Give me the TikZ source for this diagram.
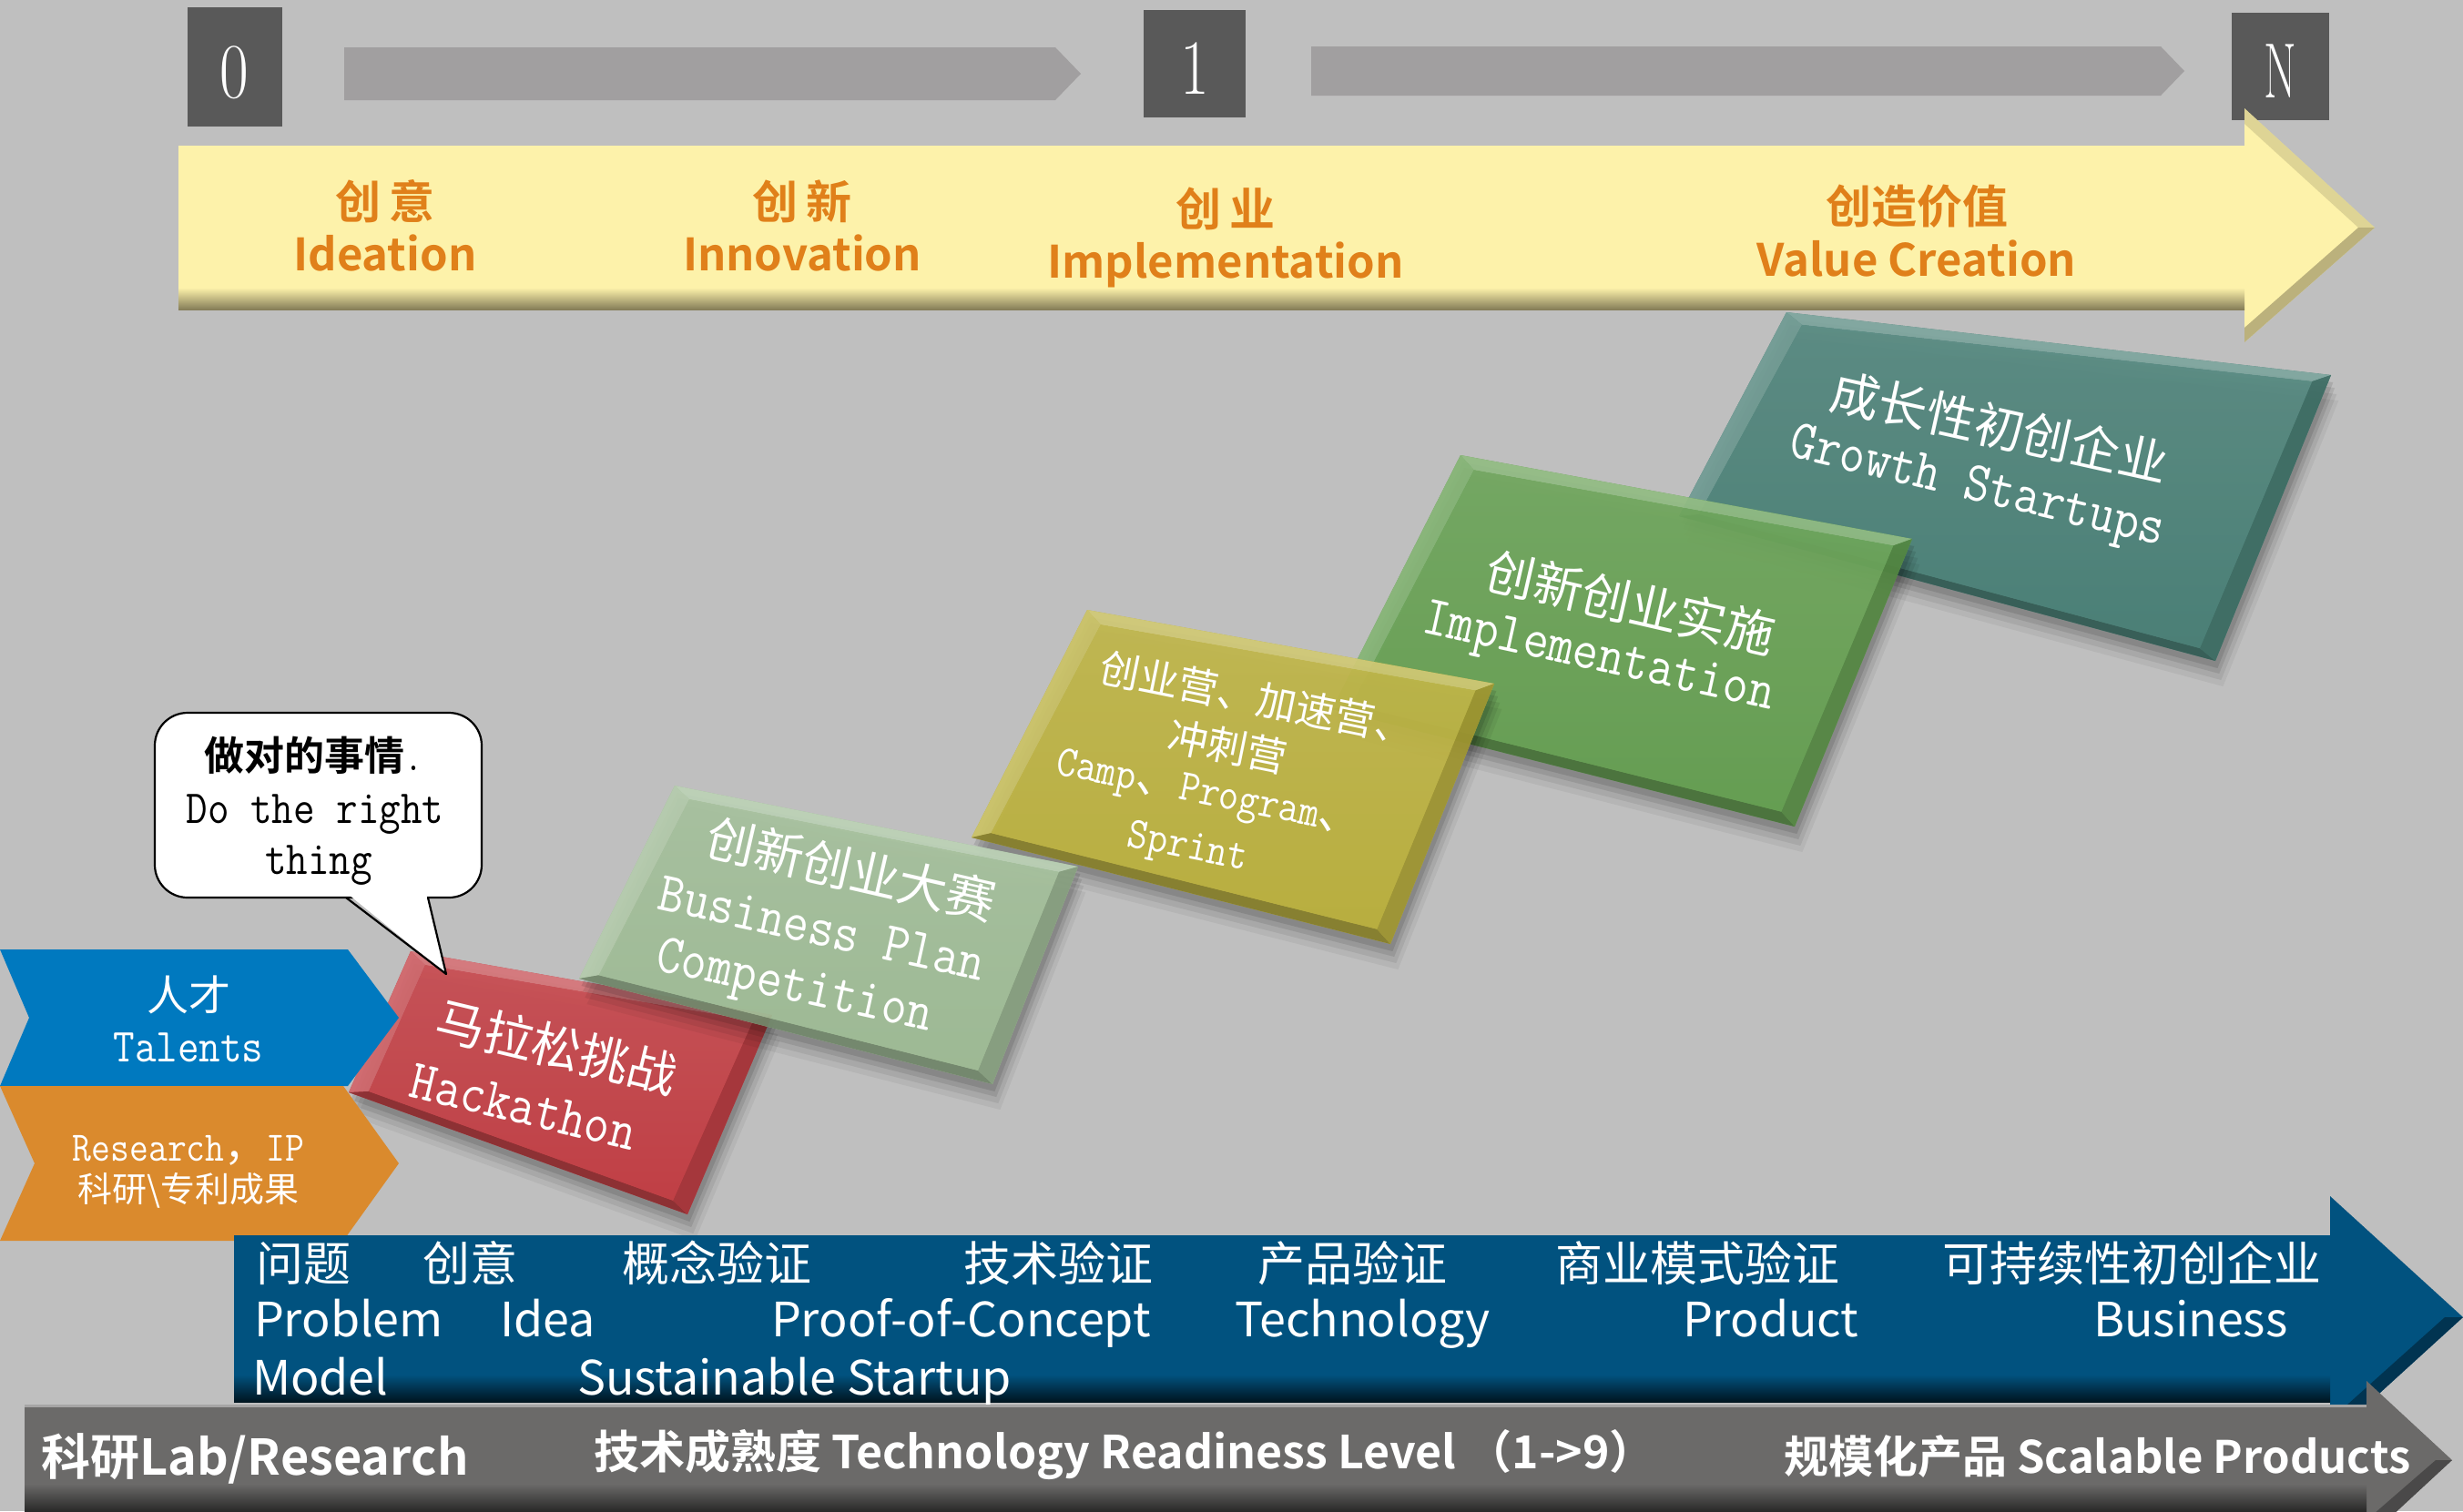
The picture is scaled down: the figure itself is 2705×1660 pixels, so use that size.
\documentclass[tikz,border=0pt]{standalone}
\usepackage{fontspec}
\newfontfamily\cjk{Noto Sans CJK SC}[BoldFont={Noto Sans CJK SC Bold}]
\newfontfamily\mono{Latin Modern Mono}[FakeStretch=0.88]
\usetikzlibrary{calc}
\definecolor{bgc}{HTML}{BFBFBF}
\definecolor{boxc}{HTML}{595959}
\definecolor{garr}{HTML}{A19FA0}
\definecolor{yel}{HTML}{FDF2AA}
\definecolor{yelsh}{HTML}{857D58}
\definecolor{orgtxt}{HTML}{E0801A}
\definecolor{chblue}{HTML}{0079BF}
\definecolor{chorange}{HTML}{DA8A2D}
\definecolor{navy}{HTML}{01527F}
\definecolor{darkg}{HTML}{6B6A69}
\definecolor{cred}{HTML}{C53A40}
\definecolor{clg}{HTML}{A0BE96}
\definecolor{colive}{HTML}{BDB23A}
\definecolor{cgreen}{HTML}{63A04E}
\definecolor{cteal}{HTML}{467F75}

\newcommand\mycard[5]{%
 \coordinate (cA) at #2; \coordinate (cB) at #3; \coordinate (cC) at #4; \coordinate (cD) at #5;
 \coordinate (cM) at ($(cA)!0.5!(cC)$);
 \coordinate (iA) at ($(cA)!22pt!(cM)$);
 \coordinate (iB) at ($(cB)!22pt!(cM)$);
 \coordinate (iC) at ($(cC)!22pt!(cM)$);
 \coordinate (iD) at ($(cD)!22pt!(cM)$);
 \foreach \s/\o in {28/0.05,21/0.07,14/0.09,8/0.11}{
   \fill[black,opacity=\o] ($(cA)+(0.3*\s,\s)$) -- ($(cB)+(0.3*\s,\s)$) -- ($(cC)+(0.3*\s,\s)$) -- ($(cD)+(0.3*\s,\s)$) -- cycle;}
 \begin{scope}[transparency group, opacity=0.92]
  \fill[#1] (cA)--(cB)--(cC)--(cD)--cycle;
  \fill[#1!70!white] (cA)--(cB)--(iB)--(iA)--cycle;
  \fill[#1!78!white] (cA)--(iA)--(iD)--(cD)--cycle;
  \fill[#1!72!black] (cD)--(iD)--(iC)--(cC)--cycle;
  \fill[#1!85!black] (cB)--(cC)--(iC)--(iB)--cycle;
  \shade[top color=#1!90!white, bottom color=#1] (iA)--(iB)--(iC)--(iD)--cycle;
 \end{scope}
}

\tikzset{
 every node/.style={inner sep=0pt, outer sep=0pt},
 digitbox/.style={fill=boxc},
 digit/.style={text=white, font=\fontsize{86}{86}\selectfont},
 ytxt/.style={text=orgtxt, font=\cjk\bfseries\fontsize{50}{56}\selectfont},
 yentxt/.style={text=orgtxt, font=\cjk\bfseries\fontsize{49}{56}\selectfont},
 cardzh/.style={text=white, font=\cjk\fontsize{54}{60}\selectfont},
 carden/.style={text=white, font=\mono\fontsize{62}{66}\selectfont},
 olzh/.style={text=white, font=\cjk\fontsize{44}{50}\selectfont},
 olen/.style={text=white, font=\mono\fontsize{49}{54}\selectfont},
 bubzh/.style={text=black, font=\cjk\bfseries\fontsize{44}{50}\selectfont},
 buben/.style={text=black, font=\mono\fontsize{52}{56}\selectfont},
 chzh/.style={text=white, font=\cjk\fontsize{46}{50}\selectfont},
 chen/.style={text=white, font=\mono\fontsize{52}{56}\selectfont},
 chzhs/.style={text=white, font=\cjk\fontsize{38}{44}\selectfont},
 chens/.style={text=white, font=\mono\fontsize{46}{50}\selectfont},
 navytxt/.style={text=white, anchor=base west, font=\cjk\fontsize{52}{58}\selectfont},
 graytxt/.style={text=white, anchor=base west, font=\cjk\bfseries\fontsize{50}{58}\selectfont},
}

\begin{document}
\begin{tikzpicture}[x=1pt,y=-1pt]
\useasboundingbox (0,0) rectangle (2705,1660);
\fill[bgc] (0,0) rectangle (2705,1660);

% ---- top row: 0 -> 1 -> N
\node[digitbox, minimum width=104pt, minimum height=131pt] (b0) at (258,73.5) {};
\node[digitbox, minimum width=112pt, minimum height=118pt] (b1) at (1312,70) {};
\node[digitbox, minimum width=107pt, minimum height=118pt] (bN) at (2504.5,73) {};
\node[digit] (d0) at (257,80) {\scalebox{0.8}[1]{0}};
\node[digit] (d1) at (1312,75) {\scalebox{0.8}[1]{1}};
\node[digit] (dN) at (2504,78.5) {\scalebox{0.6}[1]{N}};
\fill[garr] (378,52) -- (1159,52) -- (1187,81) -- (1159,110) -- (378,110) -- cycle;
\fill[garr] (1440,51) -- (2373,51) -- (2399,78) -- (2373,105) -- (1440,105) -- cycle;

% ---- yellow arrow
\fill[yel] (196,160) -- (2465,160) -- (2465,119) -- (2608,250) -- (2465,376) -- (2465,340) -- (196,340) -- cycle;
\shade[top color=yel, bottom color=yelsh] (196,316) rectangle (2465,340);
\fill[yelsh, opacity=0.55] (2608,250) -- (2465,376) -- (2465,360) -- (2590,250) -- cycle;
\fill[yelsh, opacity=0.25] (2465,119) -- (2608,250) -- (2590,250) -- (2465,136) -- cycle;
\node[ytxt, anchor=base] (ya1) at (423,240) {创\hspace{10pt}意};
\node[yentxt, anchor=base] (ya2) at (423,297) {Ideation};
\node[ytxt, anchor=base] (yb1) at (881,240) {创\hspace{10pt}新};
\node[yentxt, anchor=base] (yb2) at (881,297) {Innovation};
\node[ytxt, anchor=base] (yc1) at (1346,248) {创\hspace{10pt}业};
\node[yentxt, anchor=base] (yc2) at (1346,305) {Implementation};
\node[ytxt, anchor=base] (yd1) at (2105,245) {创造价值};
\node[yentxt, anchor=base] (yd2) at (2105,303) {Value Creation};

% ---- cards
\mycard{cteal}{(1962,343)}{(2560,412)}{(2433,726)}{(1844,567)}
\node[cardzh, rotate=-12.5] (tz) at (2196,469) {成长性初创企业};
\node[carden, rotate=-13.5] (te) at (2171,538) {Growth Startups};

\mycard{cgreen}{(1604,500)}{(2100,592)}{(1971,908)}{(1463,779)}
\node[cardzh, rotate=-13] (gz) at (1791,662) {创新创业实施};
\node[carden, rotate=-12.5] (ge) at (1755,725) {Implementation};

\mycard{colive}{(1194,670)}{(1641,751)}{(1527,1037)}{(1067,920)}
\node[olzh, rotate=-11.5] (o1) at (1381,767) {创业营、加速营、};
\node[olzh, rotate=-11.5] (o2) at (1348,820) {冲刺营};
\node[olen, rotate=-11.5] (o3) at (1328,875) {Camp{\cjk 、}Program{\cjk 、}};
\node[olen, rotate=-11.5] (o4) at (1304,933) {Sprint};

\mycard{cred}{(451,1045)}{(848,1115)}{(755,1334)}{(383,1200)}
\node[cardzh, rotate=-13.5] (rz) at (612,1150) {马拉松挑战};
\node[carden, rotate=-13.5] (re) at (575,1216) {Hackathon};

\mycard{clg}{(741,863)}{(1184,952)}{(1090,1191)}{(636,1075)}
\node[cardzh, rotate=-13] (lz) at (935,955) {创新创业大赛};
\node[carden, rotate=-12.5] (le1) at (903,1020) {Business Plan};
\node[carden, rotate=-12.5] (le2) at (872,1087) {Competition};

% ---- speech bubble
\node[draw=black, fill=white, line width=2.2pt, rounded corners=36pt, minimum width=359pt, minimum height=203pt] (bub) at (349.5,884.5) {};
\coordinate (tl) at (380,986);
\coordinate (tr) at (470,986);
\coordinate (tip) at (490,1070);
\fill[white] ($(tl)+(2,-4)$) -- (tip) -- ($(tr)+(-2,-4)$) -- cycle;
\draw[line width=2.2pt, line join=round] (tl) -- (tip) -- (tr);
\node[bubzh, anchor=base] (bz) at (344,846) {做对的事情{\mono .}};
\node[buben, anchor=base] (be1) at (346,904) {Do the right};
\node[buben, anchor=base] (be2) at (350,960) {thing};

% ---- left chevrons
\fill[chblue] (0,1043) -- (382,1043) -- (438,1118) -- (382,1193) -- (0,1193) -- (32,1118) -- cycle;
\fill[chorange] (0,1193) -- (377,1193) -- (438,1278) -- (377,1363) -- (0,1363) -- (38,1278) -- cycle;
\node[chzh, anchor=base] (c1) at (207,1110) {人才};
\node[chen, anchor=base] (c2) at (207,1166) {Talents};
\node[chens, anchor=base] (c3) at (207,1275) {Research{\cjk ，}IP};
\node[chzhs, anchor=base] (c4) at (207,1320) {科研\textbackslash 专利成果};

% ---- navy arrow
\fill[navy] (257,1357) -- (2559,1357) -- (2559,1314) -- (2705,1447) -- (2559,1580) -- (2559,1540) -- (257,1540) -- cycle;
\shade[top color=navy, bottom color=navy!25!black] (257,1510) rectangle (2559,1540);
\fill[navy!40!black, opacity=0.6] (2705,1447) -- (2559,1580) -- (2559,1560) -- (2685,1447) -- cycle;
\node[navytxt] (n1) at (281,1407) {问题};
\node[navytxt] (n2) at (464,1407) {创意};
\node[navytxt] (n3) at (683,1407) {概念验证};
\node[navytxt] (n4) at (1058,1407) {技术验证};
\node[navytxt] (n5) at (1381,1407) {产品验证};
\node[navytxt] (n6) at (1708,1407) {商业模式验证};
\node[navytxt] (n7) at (2133,1407) {可持续性初创企业};
\node[navytxt] (m1) at (279,1468) {Problem};
\node[navytxt] (m2) at (549,1468) {Idea};
\node[navytxt] (m3) at (847,1468) {Proof-of-Concept};
\node[navytxt] (m4) at (1356,1468) {Technology};
\node[navytxt] (m5) at (1848,1468) {Product};
\node[navytxt] (m6) at (2299,1468) {Business};
\node[navytxt] (k1) at (277,1532) {Model};
\node[navytxt] (k2) at (634,1532) {Sustainable Startup};

% ---- gray arrow
\fill[darkg] (27,1543) -- (2599,1543) -- (2599,1517) -- (2693,1604) -- (2599,1691) -- (2599,1665) -- (27,1665) -- cycle;
\draw[darkg!60!white, line width=3pt] (27,1544.5) -- (2599,1544.5);
\shade[top color=darkg, bottom color=darkg!35!black] (27,1630) rectangle (2599,1662);
\fill[darkg!40!black, opacity=0.5] (2693,1604) -- (2599,1691) -- (2599,1670) -- (2675,1604) -- cycle;
\node[graytxt, font=\cjk\bfseries\fontsize{54}{58}\selectfont] (g1) at (45,1620) {科研Lab/Research};
\node[graytxt] (g2) at (652,1613) {技术成熟度 Technology Readiness Level （1->9）};
\node[graytxt, font=\cjk\bfseries\fontsize{49}{58}\selectfont] (g3) at (1959,1618) {规模化产品 Scalable Products};
\end{tikzpicture}
\end{document}
